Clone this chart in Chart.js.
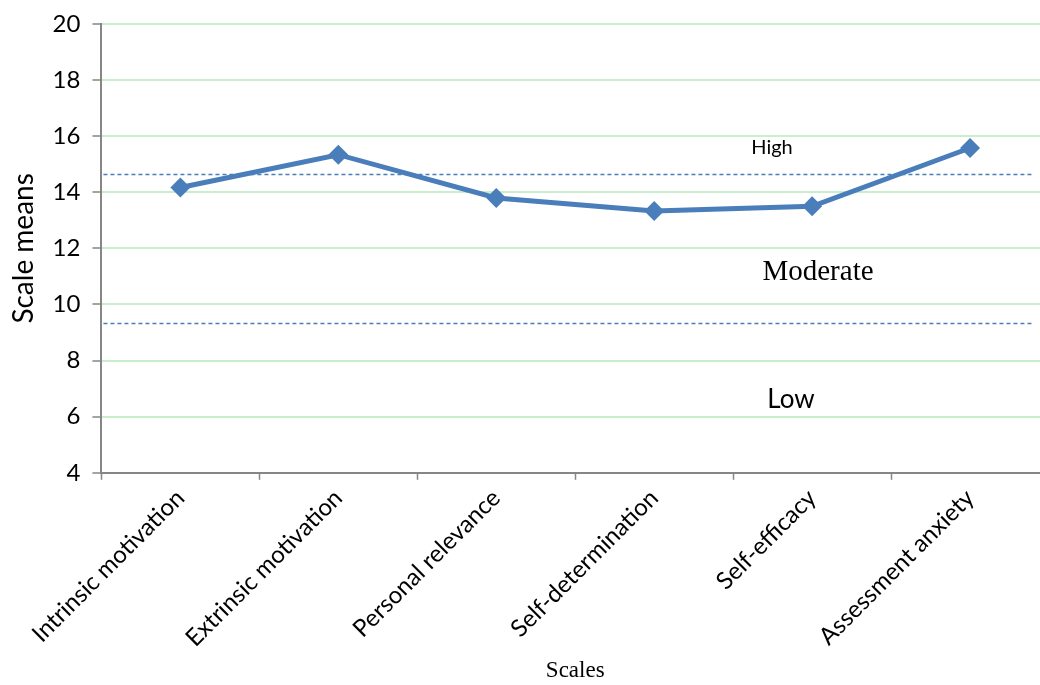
<!DOCTYPE html>
<html>
<head>
<meta charset="utf-8">
<script src="https://cdn.jsdelivr.net/npm/chart.js@4.4.1/dist/chart.umd.min.js"></script>
<style>
  html, body { margin: 0; padding: 0; background: #ffffff; overflow: hidden; }
  #wrap { position: relative; width: 1060px; height: 685px; }
</style>
</head>
<body>
<div id="wrap"><canvas id="chart" width="1060" height="685"></canvas></div>
<script>
// Motivation scales and their mean scores
const categories = [
  'Intrinsic motivation',
  'Extrinsic motivation',
  'Personal relevance',
  'Self-determination',
  'Self-efficacy',
  'Assessment anxiety'
];
const scaleMeans = [14.17, 15.34, 13.80, 13.33, 13.50, 15.58];

// Cut-off scores separating the Low / Moderate / High bands
const bandCutoffs = [14.67, 9.34];
const bandLabels = ['High', 'Moderate', 'Low'];
const bandLabelValues = [15.6, 11.15, 6.6];

const yTicks = [4, 6, 8, 10, 12, 14, 16, 18, 20];

const LINE_BLUE = '#4A7EBB';
const AXIS_GREY = '#868686';
const GRID_GREEN = '#C8EECB';

// Draws the dashed cut-off lines and the band names
const bandPlugin = {
  id: 'bands',
  beforeDatasetsDraw(chart) {
    const { ctx, chartArea, scales } = chart;
    const y = scales.y;
    ctx.save();
    ctx.strokeStyle = LINE_BLUE;
    ctx.lineWidth = 1.3;
    ctx.setLineDash([4, 3]);
    bandCutoffs.forEach(v => {
      const py = Math.round(y.getPixelForValue(v)) + 0.5;
      ctx.beginPath();
      ctx.moveTo(chartArea.left + 2, py);
      ctx.lineTo(1033, py);
      ctx.stroke();
    });
    ctx.setLineDash([]);
    ctx.restore();
  },
  afterDatasetsDraw(chart) {
    const { ctx, scales } = chart;
    const y = scales.y;
    const styles = [
      { font: '20px Lato', x: 772 },
      { font: '29px "Liberation Serif"', x: 818 },
      { font: '26px Lato', x: 791 }
    ];
    ctx.save();
    ctx.fillStyle = '#000000';
    ctx.textAlign = 'center';
    ctx.textBaseline = 'middle';
    bandLabels.forEach((t, i) => {
      ctx.font = styles[i].font;
      ctx.fillText(t, styles[i].x, y.getPixelForValue(bandLabelValues[i]));
    });
    ctx.restore();
  }
};

new Chart(document.getElementById('chart'), {
  type: 'line',
  data: {
    labels: categories,
    datasets: [{
      data: scaleMeans,
      borderColor: LINE_BLUE,
      backgroundColor: LINE_BLUE,
      borderWidth: 5,
      pointStyle: 'rectRot',
      pointRadius: 10,
      pointHoverRadius: 10,
      pointBorderWidth: 0,
      tension: 0
    }]
  },
  options: {
    responsive: false,
    animation: false,
    layout: { padding: { top: -1, right: 11, left: 7, bottom: 0 } },
    plugins: { legend: { display: false }, tooltip: { enabled: false } },
    scales: {
      x: {
        offset: true,
        grid: {
          offset: true,
          drawOnChartArea: false,
          tickColor: AXIS_GREY,
          tickLength: 7,
          tickWidth: 1.5
        },
        border: { color: AXIS_GREY, width: 2 },
        ticks: {
          color: '#000000',
          font: { family: 'Lato', size: 24 },
          maxRotation: 45,
          minRotation: 45,
          padding: 4,
          autoSkip: false
        },
        title: {
          display: true,
          text: 'Scales',
          color: '#000000',
          font: { family: 'Liberation Serif', size: 23 },
          padding: { top: 1, bottom: 0 }
        }
      },
      y: {
        min: 4,
        max: 20,
        afterBuildTicks(axis) { axis.ticks = yTicks.map(v => ({ value: v })); },
        grid: {
          color: GRID_GREEN,
          lineWidth: 2,
          tickColor: AXIS_GREY,
          tickLength: 9,
          tickWidth: 1.5
        },
        border: { color: AXIS_GREY, width: 2 },
        ticks: {
          color: '#000000',
          font: { family: 'Lato', size: 24, lineHeight: 1 },
          padding: 12
        },
        title: {
          display: true,
          text: 'Scale means',
          color: '#000000',
          font: { family: 'Lato', size: 28 },
          padding: { top: 0, bottom: 0 }
        }
      }
    }
  },
  plugins: [bandPlugin]
});
</script>
</body>
</html>
